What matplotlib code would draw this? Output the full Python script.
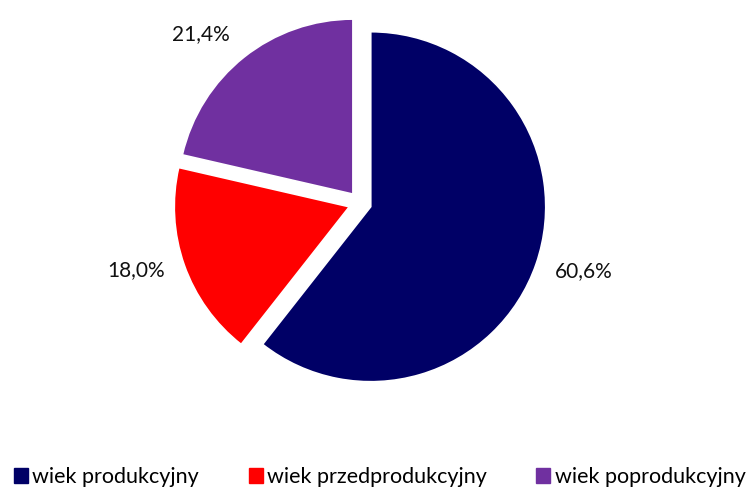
import matplotlib
matplotlib.use("Agg")
import matplotlib.pyplot as plt
from matplotlib.patches import Patch

# --- data ---
labels = ['wiek produkcyjny', 'wiek przedprodukcyjny', 'wiek poprodukcyjny']
shares = [60.6, 18.0, 21.4]
colors = ['#000066', '#FF0000', '#7030A0']

plt.rcParams['font.family'] = ['Lato', 'DejaVu Sans']

W, H = 749, 491
fig = plt.figure(figsize=(W / 100, H / 100), dpi=100)

# place square axes so the pie sits where it does in the reference
R = 175          # pixel radius
lim = 1.25
side = 2 * lim * R
cx, cy = 360, 203
ax = fig.add_axes([(cx - side / 2) / W, (H - cy - side / 2) / H, side / W, side / H])

wedges, texts, autotexts = ax.pie(
    shares,
    colors=colors,
    startangle=90,
    counterclock=False,
    explode=[0.065] * len(shares),
    autopct=lambda p: f"{p:.1f}%".replace('.', ','),
    pctdistance=1.28,
    wedgeprops=dict(edgecolor='white', linewidth=1.2),
    textprops=dict(fontsize=15, color='#111111'),
)
# nudge labels to where the reference puts them
nudges = [(0.01, 0.05), (-0.01, 0.065), (-0.07, -0.085)]
for t, (dx, dy) in zip(autotexts, nudges):
    x, y = t.get_position()
    t.set_position((x + dx, y + dy))

ax.set_xlim(-lim, lim)
ax.set_ylim(-lim, lim)
ax.set_aspect('equal')
ax.axis('off')

handles = [Patch(facecolor=c, edgecolor=c) for c in colors]
fig.legend(handles, labels, loc='center', ncol=3, frameon=False,
           fontsize=15.5, bbox_to_anchor=(0.507, 14 / H),
           handlelength=0.65, handleheight=0.75, handletextpad=0.2,
           columnspacing=2.3, borderaxespad=0, borderpad=0)

fig.savefig('out.png', dpi=100, facecolor='white')
